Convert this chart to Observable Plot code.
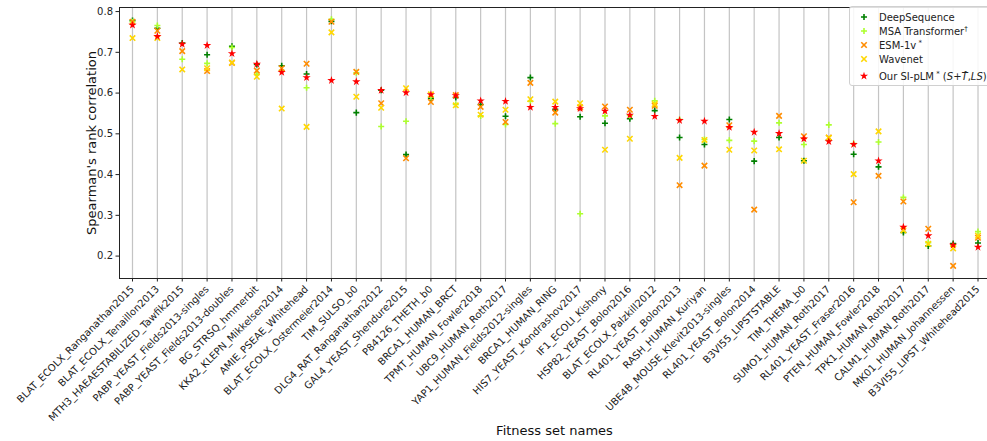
<!DOCTYPE html>
<html>
<head>
<meta charset="utf-8">
<script src="https://cdn.jsdelivr.net/npm/d3@7"></script>
<script src="https://cdn.jsdelivr.net/npm/@observablehq/plot@0.6"></script>
<style>
  html, body { margin: 0; padding: 0; background: #fff; }
  #wrap { position: relative; width: 987px; height: 441px; font-family: "DejaVu Sans", sans-serif; }
  #legend { position: absolute; left: 849px; top: 6px; width: 150px; height: 80px; background: rgba(255,255,255,0.85);
    border: 1px solid #d0d0d0; border-radius: 3px; font-size: 10px; color: #222; box-sizing: border-box; }
  #legend .row { position: absolute; left: 0; height: 14px; display: flex; align-items: center; }
  #legend svg { margin-left: 8px; margin-right: 9px; }
  #xlabel { position: absolute; left: 0; width: 1109px; top: 423px; text-align: center; font-size: 13px; color: #111; }
</style>
</head>
<body>
<div id="wrap"><div id="chart"></div><div id="legend"></div><div id="xlabel">Fitness set names</div></div>
<script>
const categories = [
  "BLAT_ECOLX_Ranganathan2015","BLAT_ECOLX_Tenaillon2013","MTH3_HAEAESTABILIZED_Tawfik2015",
  "PABP_YEAST_Fields2013-singles","PABP_YEAST_Fields2013-doubles","BG_STRSQ_hmmerbit",
  "KKA2_KLEPN_Mikkelsen2014","AMIE_PSEAE_Whitehead","BLAT_ECOLX_Ostermeier2014","TIM_SULSO_b0",
  "DLG4_RAT_Ranganathan2012","GAL4_YEAST_Shendure2015","P84126_THETH_b0","BRCA1_HUMAN_BRCT",
  "TPMT_HUMAN_Fowler2018","UBC9_HUMAN_Roth2017","YAP1_HUMAN_Fields2012-singles","BRCA1_HUMAN_RING",
  "HIS7_YEAST_Kondrashov2017","IF1_ECOLI_Kishony","HSP82_YEAST_Bolon2016","BLAT_ECOLX_Palzkill2012",
  "RL401_YEAST_Bolon2013","RASH_HUMAN_Kuriyan","UBE4B_MOUSE_Klevit2013-singles","RL401_YEAST_Bolon2014",
  "B3VI55_LIPSTSTABLE","TIM_THEMA_b0","SUMO1_HUMAN_Roth2017","RL401_YEAST_Fraser2016",
  "PTEN_HUMAN_Fowler2018","TPK1_HUMAN_Roth2017","CALM1_HUMAN_Roth2017","MK01_HUMAN_Johannessen",
  "B3VI55_LIPST_Whitehead2015"
];
const deepSequence = [0.778,0.759,0.723,0.694,0.715,0.670,0.667,0.647,0.776,0.552,
  0.607,0.449,0.587,0.589,0.572,0.543,0.638,0.560,0.542,0.526,0.537,0.557,
  0.491,0.474,0.535,0.433,0.491,0.434,0.485,0.450,0.419,0.258,0.225,0.231,0.232];
const msaTransformer = [0.775,0.766,0.683,0.673,0.712,0.646,0.655,0.613,0.781,0.650,
  0.518,0.531,0.590,0.572,0.544,0.523,0.580,0.525,0.304,0.544,0.545,0.581,
  0.535,0.486,0.484,0.482,0.527,0.474,0.522,0.476,0.480,0.344,0.233,0.225,0.260];
const esm1v = [0.775,0.753,0.703,0.654,0.674,0.655,0.661,0.672,0.775,0.652,
  0.575,0.440,0.578,0.595,0.566,0.529,0.625,0.552,0.565,0.567,0.559,0.569,
  0.374,0.422,0.521,0.314,0.544,0.494,0.491,0.332,0.397,0.334,0.267,0.176,0.245];
const wavenet = [0.735,0.735,0.658,0.661,0.675,0.640,0.562,0.517,0.749,0.591,
  0.564,0.612,0.597,0.570,0.547,0.559,0.585,0.579,0.575,0.461,0.488,0.573,
  0.441,0.485,0.461,0.459,0.462,0.434,0.490,0.401,0.506,0.263,0.230,0.219,0.250];
const ours = [0.767,0.739,0.720,0.717,0.697,0.671,0.651,0.638,0.631,0.628,
  0.607,0.601,0.596,0.594,0.581,0.580,0.565,0.565,0.562,0.556,0.546,0.543,
  0.533,0.531,0.516,0.504,0.501,0.488,0.481,0.474,0.434,0.271,0.250,0.227,0.222];
const yTicks = [0.2,0.3,0.4,0.5,0.6,0.7,0.8];

const series = [
  {name: "DeepSequence", values: deepSequence, symbol: "plus", color: "#008000", r: 2.1, filled: false},
  {name: "MSA Transformer", values: msaTransformer, symbol: "plus", color: "#adff2f", r: 2.1, filled: false},
  {name: "ESM-1v", values: esm1v, symbol: "times", color: "#ff8c00", r: 2.6, filled: false},
  {name: "Wavenet", values: wavenet, symbol: "times", color: "#ffd700", r: 2.6, filled: false},
  {name: "Ours", values: ours, symbol: "star", color: "#ff0000", r: 2.6, filled: true}
];

const font = "DejaVu Sans";
const marks = [
  Plot.ruleX(categories, {stroke: "#b0b0b0", strokeOpacity: 0.75, strokeWidth: 1.2}),
];
for (const s of series) {
  const rows = categories.map((c, i) => ({cat: c, v: s.values[i]}));
  marks.push(Plot.dot(rows, {
    x: "cat", y: "v", symbol: () => s.symbol, r: s.r,
    fill: s.filled ? s.color : "none", stroke: s.filled ? "none" : s.color,
    strokeWidth: 1.6
  }));
}
marks.push(
  Plot.axisY({ticks: yTicks, tickFormat: d3.format(".1f"), tickSize: 3.5, tickPadding: 3, fontSize: 10, label: null, stroke: "#222", color: "#222"}),
  Plot.axisX({tickSize: 3.5, text: null, label: null, stroke: "#222"}),
  Plot.axisX({tickRotate: -45, tickSize: 0, tickPadding: 9, fontSize: 10, label: null, color: "#222"}),
  Plot.frame({stroke: "#222", strokeWidth: 1}),
  Plot.text(["Spearman's rank correlation"], {frameAnchor: "left", dx: -28, rotate: -90, fontSize: 13, fill: "#111", textAnchor: "middle"})
);

const chart = Plot.plot({
  width: 987, height: 441,
  marginLeft: 119, marginRight: 0, marginTop: 7, marginBottom: 163,
  style: {fontFamily: font, background: "#fff", overflow: "visible"},
  x: {type: "point", domain: categories, range: [132, 977.5], padding: 0, round: false, label: null},
  y: {domain: [0.145, 0.81], label: null},
  symbol: {type: "identity"},
  marks
});
document.getElementById("chart").appendChild(chart);

// legend
const legendItems = [
  {html: "DeepSequence", s: series[0]},
  {html: "MSA Transformer<sup style='font-size:7px'>†</sup>", s: series[1]},
  {html: "ESM-1v<sup style='font-size:7px'> *</sup>", s: series[2]},
  {html: "Wavenet", s: series[3]},
  {html: "Our SI-pLM<sup style='font-size:7px'> *</sup> (<i>S</i>+<i>T̂</i>,<i>LS</i>)", s: series[4]}
];
const symMap = {plus: d3.symbolPlus, times: d3.symbolTimes, star: d3.symbolStar};
const tops = [3, 17, 31, 45, 62];
const leg = document.getElementById("legend");
legendItems.forEach((it, i) => {
  const row = document.createElement("div");
  row.className = "row";
  row.style.top = tops[i] + "px";
  const size = Math.PI * it.s.r * it.s.r;
  const path = d3.symbol(symMap[it.s.symbol], size)();
  row.innerHTML = `<svg width="12" height="12" viewBox="-6 -6 12 12"><path d="${path}" fill="${it.s.filled ? it.s.color : "none"}" stroke="${it.s.filled ? "none" : it.s.color}" stroke-width="1.6"/></svg><span>${it.html}</span>`;
  leg.appendChild(row);
});
</script>
</body>
</html>
